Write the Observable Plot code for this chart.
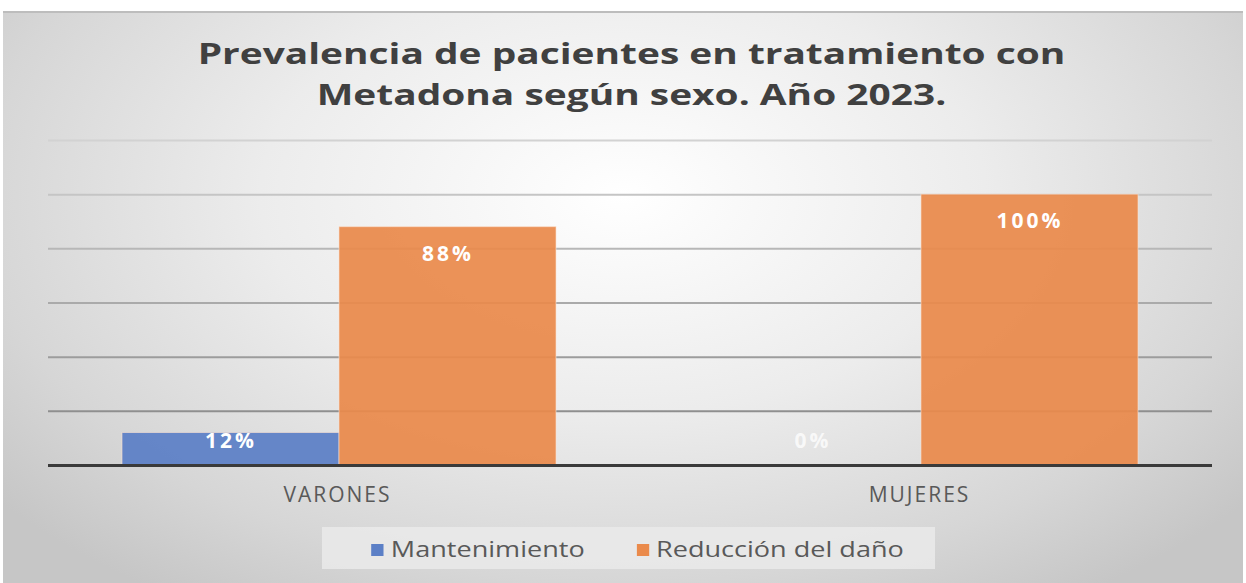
<!DOCTYPE html>
<html>
<head>
<meta charset="utf-8">
<script src="https://cdn.jsdelivr.net/npm/d3@7"></script>
<script src="https://cdn.jsdelivr.net/npm/@observablehq/plot@0.6"></script>
<style>
  html, body { margin: 0; padding: 0; background: #ffffff; }
  #frame {
    position: absolute; left: 3px; top: 11px; width: 1240px; height: 572px;
    box-sizing: border-box; border-top: 2px solid #bdbdbd;
    background: radial-gradient(ellipse 65% 85% at 50% 32%, #ffffff 0%, #ececec 45%, #d6d6d6 80%, #c6c6c6 100%);
    font-family: "Open Sans", sans-serif; overflow: hidden;
  }
  #title {
    position: absolute; left: 0; top: 19px; width: 100%; text-align: center;
    font-size: 29px; font-weight: 700; line-height: 41px; color: #404040;
    transform: scaleX(1.34); transform-origin: 595px 0;
  }
  #chart { position: absolute; left: 0; top: 107px; }
  #legend {
    position: absolute; left: 319px; top: 514px; width: 613px; height: 42px;
    background: rgba(234,234,234,0.85);
  }
  #legendInner {
    position: absolute; left: 9px; top: 0; width: 100%; height: 100%;
    display: flex; align-items: center; justify-content: center;
    gap: 42px; font-size: 22px; color: #595959;
    transform: scaleX(1.23); transform-origin: 50% 50%;
  }
  .sw { display: inline-block; width: 10px; height: 12px; margin-right: 6px; vertical-align: middle; position: relative; top: -1px; }
</style>
</head>
<body>
<div id="frame">
  <div id="title">Prevalencia de pacientes en tratamiento con<br>Metadona según sexo. Año 2023.</div>
  <div id="chart"></div>
  <div id="legend"><div id="legendInner"></div></div>
</div>
<script>
const groups = ["VARONES", "MUJERES"];
const seriesNames = ["Mantenimiento", "Reducción del daño"];
const mantenimiento = [12, 0];
const reduccion = [88, 100];
const yTicks = [20, 40, 60, 80, 100, 120];
const colors = ["#5b7fc6", "#ea8a4b"];

const data = [];
groups.forEach((g, i) => {
  data.push({group: g, series: seriesNames[0], value: mantenimiento[i]});
  data.push({group: g, series: seriesNames[1], value: reduccion[i]});
});

const gridShade = d3.scaleLinear().domain([20, 120]).range(["#8f8f8f", "#d2d2d2"]);

const chart = Plot.plot({
  width: 1240,
  height: 395,
  marginLeft: 44,
  marginRight: 31,
  marginTop: 20,
  marginBottom: 50,
  style: {background: "transparent", fontFamily: "Open Sans, sans-serif"},
  fx: {domain: groups, padding: 0, axis: null},
  x: {domain: seriesNames, paddingInner: 0, paddingOuter: 0.337, axis: null},
  y: {domain: [0, 120], axis: null},
  color: {domain: seriesNames, range: colors},
  marks: [
    Plot.ruleY(yTicks, {stroke: d => gridShade(d), strokeWidth: 2}),
    Plot.barY(data, {fx: "group", x: "series", y: "value", fill: "series", fillOpacity: 0.93,
      stroke: "#fbe3d3", strokeWidth: 1, strokeOpacity: 0.6}),
    Plot.text(data, {fx: "group", x: "series", y: d => Math.max(d.value - 10, 9),
      text: d => d.value + "%", fill: "#ffffff", fontWeight: "bold", fontSize: 21,
      fillOpacity: d => d.value === 0 ? 0.75 : 1}),
    Plot.ruleY([0], {stroke: "#3a3a3a", strokeWidth: 3}),
    Plot.axisFx({anchor: "bottom", label: null, tickSize: 0, tickPadding: 22, fontSize: 21, fill: "#595959"})
  ]
});
chart.querySelectorAll('g[aria-label="text"] text').forEach(e => e.setAttribute("letter-spacing", "3"));
chart.querySelectorAll('g[aria-label="fx-axis tick label"] text').forEach(e => { e.setAttribute("letter-spacing", "2"); e.setAttribute("dx", "-2"); });
document.getElementById("chart").appendChild(chart);

const legend = document.getElementById("legendInner");
seriesNames.forEach((s, i) => {
  const item = document.createElement("span");
  const sw = document.createElement("span");
  sw.className = "sw";
  sw.style.background = colors[i];
  item.appendChild(sw);
  item.appendChild(document.createTextNode(s));
  legend.appendChild(item);
});
</script>
</body>
</html>
